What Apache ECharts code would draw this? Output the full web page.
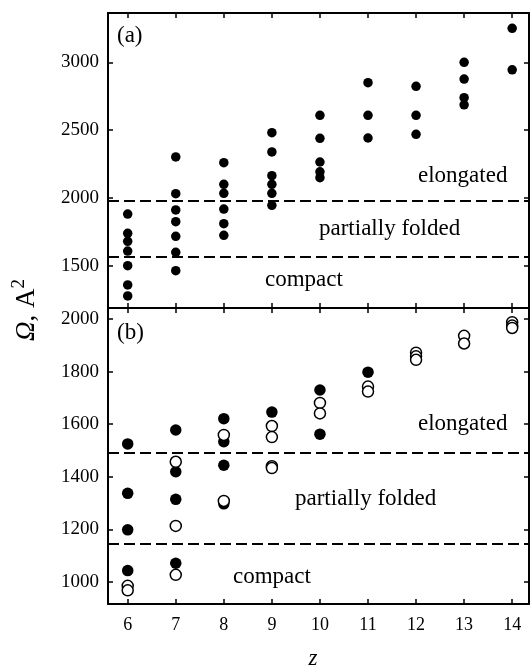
<!DOCTYPE html>
<html>
<head>
<meta charset="utf-8">
<script src="https://cdn.jsdelivr.net/npm/echarts@6/dist/echarts.min.js"></script>
<style>html,body{margin:0;padding:0;background:#fff;}#c{width:530px;height:666px;}</style>
</head>
<body>
<div id="c"></div>
<script>
// ---- data ----
var xTicks = [6, 7, 8, 9, 10, 11, 12, 13, 14];
var yTicksA = [1500, 2000, 2500, 3000];
var yTicksB = [1000, 1200, 1400, 1600, 1800, 2000];

// panel (a): filled points [z, Omega]
var panelA = [
  [6,1881],[6,1739],[6,1680],[6,1608],[6,1500],[6,1358],[6,1277],
  [7,2302],[7,2031],[7,1911],[7,1825],[7,1717],[7,1599],[7,1463],
  [8,2260],[8,2100],[8,2034],[8,1918],[8,1810],[8,1724],
  [9,2481],[9,2339],[9,2164],[9,2100],[9,2034],[9,1945],
  [10,2609],[10,2440],[10,2265],[10,2193],[10,2149],
  [11,2850],[11,2609],[11,2442],
  [12,2823],[12,2609],[12,2469],
  [13,3000],[13,2877],[13,2739],[13,2687],
  [14,3251],[14,2945]
];
// panel (b): filled points
var panelBFilled = [
  [6,1525],[6,1337],[6,1198],[6,1043],
  [7,1578],[7,1419],[7,1314],[7,1071],
  [8,1621],[8,1533],[8,1444],[8,1297],
  [9,1646],
  [10,1730],[10,1562],
  [11,1798]
];
// panel (b): open points
var panelBOpen = [
  [6,985],[6,968],
  [7,1457],[7,1213],[7,1027],
  [8,1559],[8,1308],
  [9,1593],[9,1551],[9,1440],[9,1433],
  [10,1681],[10,1641],
  [11,1743],[11,1724],
  [12,1872],[12,1858],[12,1845],
  [13,1936],[13,1907],
  [14,1988],[14,1975],[14,1966]
];
// region boundaries
var boundsA = [1980, 1565];
var boundsB = [1490, 1147];
var regionLabels = ['elongated', 'partially folded', 'compact'];

// ---- chart ----
var FONT = 'Liberation Serif';
var chart = echarts.init(document.getElementById('c'));
var xMin = 5.59, xMax = 14.35;
var yRangeA = [1188, 3364], yRangeB = [916, 2042];
var axLine = {show: true, onZero: false, lineStyle: {color: '#000', width: 2}};
function plain(v) { return String(v); }

function xAx(grid, pos, labels) {
  return {
    type: 'value', gridIndex: grid, position: pos, min: xMin, max: xMax,
    axisLine: axLine,
    axisTick: {show: true, inside: true, length: 5, lineStyle: {color: '#000', width: 1.5}, customValues: xTicks},
    axisLabel: labels ? {show: true, customValues: xTicks, formatter: plain, fontFamily: FONT, fontSize: 18, color: '#000', margin: 12} : {show: false},
    splitLine: {show: false}
  };
}
function yAx(grid, pos, range, ticks, labels) {
  return {
    type: 'value', gridIndex: grid, position: pos, min: range[0], max: range[1],
    axisLine: axLine,
    axisTick: {show: true, inside: true, length: 5, lineStyle: {color: '#000', width: 1.5}, customValues: ticks},
    axisLabel: labels ? {show: true, customValues: ticks, formatter: plain, fontFamily: FONT, fontSize: 19, color: '#000', margin: 9} : {show: false},
    splitLine: {show: false}
  };
}
function dashLines(vals) {
  return {
    silent: true, symbol: 'none', label: {show: false},
    lineStyle: {color: '#000', type: [11, 5], width: 2},
    data: vals.map(function (v) { return {yAxis: v}; })
  };
}
function txt(x, y, s, size, style) {
  return {type: 'text', x: x, y: y, style: {text: s, fontFamily: FONT, fontSize: size || 23, fill: '#000', textAlign: 'left', textVerticalAlign: 'middle', fontStyle: style || 'normal'}};
}

var option = {
  animation: false,
  backgroundColor: '#fff',
  grid: [
    {left: 108, right: 1, top: 13, height: 295},
    {left: 108, right: 1, top: 308, height: 296}
  ],
  xAxis: [xAx(0, 'bottom', false), xAx(0, 'top', false), xAx(1, 'bottom', true), xAx(1, 'top', false)],
  yAxis: [yAx(0, 'left', yRangeA, yTicksA, true), yAx(0, 'right', yRangeA, yTicksA, false),
          yAx(1, 'left', yRangeB, yTicksB, true), yAx(1, 'right', yRangeB, yTicksB, false)],
  series: [
    {type: 'scatter', xAxisIndex: 0, yAxisIndex: 0, data: panelA, symbolSize: 9.5,
     itemStyle: {color: '#000', opacity: 1}, markLine: dashLines(boundsA)},
    {type: 'scatter', xAxisIndex: 2, yAxisIndex: 2, data: panelBFilled, symbolSize: 11.5,
     itemStyle: {color: '#000', opacity: 1}, markLine: dashLines(boundsB)},
    {type: 'scatter', xAxisIndex: 2, yAxisIndex: 2, data: panelBOpen, symbolSize: 11,
     itemStyle: {color: '#fff', borderColor: '#000', borderWidth: 1.5, opacity: 1}}
  ],
  graphic: [
    txt(117, 36, '(a)'),
    txt(418, 176, regionLabels[0]),
    txt(319, 229, regionLabels[1]),
    txt(265, 280, regionLabels[2]),
    txt(117, 333, '(b)'),
    txt(418, 424, regionLabels[0]),
    txt(295, 499, regionLabels[1]),
    txt(233, 577, regionLabels[2]),
    {type: 'text', x: 313, y: 659, style: {text: 'z', fontFamily: FONT, fontSize: 23, fontStyle: 'italic', fill: '#000', textAlign: 'center', textVerticalAlign: 'middle'}},
    {type: 'text', x: 27, y: 310, rotation: Math.PI / 2,
     style: {text: '{o|Ω}{n|, A}{s|2}', fill: '#000', textAlign: 'center', textVerticalAlign: 'middle',
       rich: {
         o: {fontFamily: FONT, fontSize: 27, fontStyle: 'italic'},
         n: {fontFamily: FONT, fontSize: 27},
         s: {fontFamily: FONT, fontSize: 19, verticalAlign: 'top', padding: [0, 0, 16, 0]}
       }}}
  ]
};
chart.setOption(option);
</script>
</body>
</html>
